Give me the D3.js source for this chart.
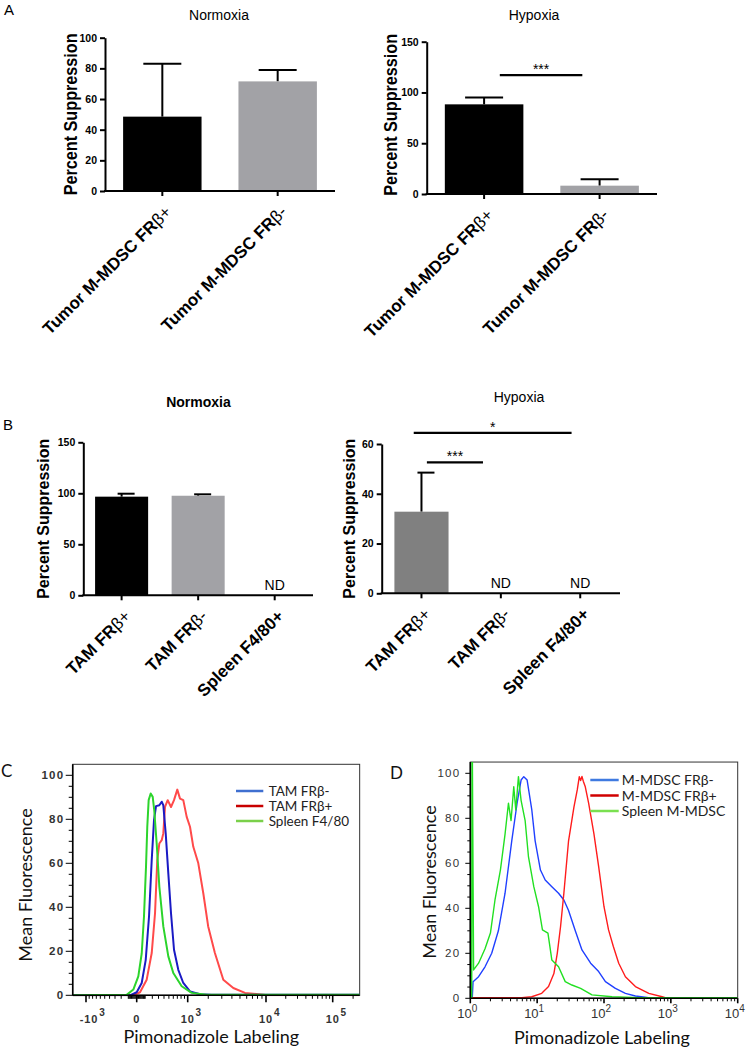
<!DOCTYPE html>
<html><head><meta charset="utf-8">
<script src="https://cdn.jsdelivr.net/npm/d3@7"></script>
<style>
body{margin:0;background:#fff;}
svg{display:block;font-family:Arial,"Liberation Sans",sans-serif;}
</style></head><body>
<svg id="chart" width="747" height="1050"></svg>
<script>
// ---------------- DATA ----------------
const aCategories = ["Tumor M-MDSC FRβ+", "Tumor M-MDSC FRβ-"];
const aNormoxiaMean = [48.5, 71.5];
const aNormoxiaErrTop = [83, 79];
const aHypoxiaMean = [88.3, 8.2];
const aHypoxiaErrTop = [95, 14.5];
const aNormoxiaTicks = [0, 20, 40, 60, 80, 100];
const aHypoxiaTicks = [0, 50, 100, 150];
const aHypoxiaSig = [{from: 0, to: 1, y: 117, label: "***"}];

const bCategories = ["TAM FRβ+", "TAM FRβ-", "Spleen F4/80+"];
const bNormoxiaMean = [96.7, 97.6, null];
const bNormoxiaErrTop = [99.6, 99.0, null];
const bHypoxiaMean = [32.8, null, null];
const bHypoxiaErrTop = [48.5, null, null];
const bNormoxiaTicks = [0, 50, 100, 150];
const bHypoxiaTicks = [0, 20, 40, 60];
const bHypoxiaSig = [{from: 0, to: 2, y: 64.5, label: "*"}, {from: 0, to: 1, y: 52.6, label: "***"}];

// Panel C histograms: [Pimonadizole value, % of max]
const cTamFRbNeg = [[-1500,0],[-78,0],[0,1.4],[57,5.6],[107,16],[152,35.8],[191,61.5],[226,79.6],[258,86],[314,86.4],[357,88],[387,86.4],[434,73.6],[488,55.4],[547,37.3],[617,20.7],[725,11.6],[864,5.6],[1088,1.8],[1536,0.5],[2217,0.2],[250000,0.2]];
const cTamFRbPos = [[-1500,0],[-38,0],[37,1.4],[120,7.1],[191,19.2],[242,37.3],[279,61.5],[314,69],[357,70.5],[387,73.6],[420,85.6],[475,88.7],[547,85.6],[617,88.7],[699,93.5],[771,89.4],[864,88.7],[968,81.1],[1088,76.6],[1224,67.5],[1452,60],[1710,46.4],[1996,31.3],[2449,19.2],[3134,7.1],[4159,3.3],[5730,1.1],[9320,0.3],[10400,0],[250000,0]];
const cSpleenF480 = [[-1500,0],[-121,0.2],[-38,2.6],[17.6,8.6],[57,19],[85,35.8],[111,58.5],[128,76.6],[147,88.7],[176,91.7],[206,90.2],[230,84],[269,69],[314,49.4],[387,31.3],[488,17.7],[600,10.1],[818,4.1],[1157,1.1],[1899,0.2],[250000,0.2]];
const cLegend = ["TAM FRβ-", "TAM FRβ+", "Spleen F4/80"];
const cXTickLabels = [{v: -1000, base: "-10", sup: "3"}, {v: 0, base: "0", sup: ""}, {v: 1000, base: "10", sup: "3"}, {v: 10000, base: "10", sup: "4"}, {v: 100000, base: "10", sup: "5"}];

// Panel D histograms
const dMdscFRbNeg = [[1.07,0],[1.10,7.4],[1.33,9.6],[1.66,14],[2.09,20],[2.63,30],[3.31,46.7],[4.17,70],[5.01,86.7],[5.75,97],[6.31,98.5],[7.08,97],[8.32,83.7],[9.33,70],[11.2,57],[13.2,52.6],[16.6,49.6],[20.9,46.7],[25.1,43.7],[29.5,39],[37.2,30],[46.8,21.5],[63.1,15.6],[83.2,11.9],[105,7.4],[148,4.4],[209,2.2],[295,1],[437,0.4],[500,0],[10000,0]];
const dMdscFRbPos = [[1.05,0.3],[5.9,0.3],[8.3,0.7],[11.7,2.2],[14.8,5.2],[17.8,11],[20,20],[22.4,31.9],[25.1,46.7],[29.5,70],[35.5,85],[39.8,92.6],[42.7,98.5],[44.7,96.8],[46.8,98.6],[49,96.5],[52.5,94],[58.9,86.7],[70.8,73],[83.2,58.5],[100,40.7],[117,30.4],[138,23],[166,15.6],[209,9.6],[295,5.2],[468,2.2],[741,0.7],[891,0],[10000,0]];
const dSpleenMdsc = [[1.05,0],[1.06,105],[1.075,105],[1.12,12.6],[1.33,15.6],[1.66,22],[2.0,29],[2.34,43.7],[2.82,57],[3.31,73],[3.72,86.7],[4.07,79],[4.47,94],[4.79,83.7],[5.25,98.5],[5.75,88],[6.61,79],[7.41,63],[8.91,49.6],[10.5,40.7],[12.0,30.4],[14.5,29],[16.6,17],[20.9,14],[26.3,7.4],[33.1,5.9],[44.7,4.4],[66.1,1.5],[132,0.7],[331,0.3],[10000,0.3]];
const dLegend = ["M-MDSC FRβ-", "M-MDSC FRβ+", "Spleen M-MDSC"];
const dXTickValues = [1, 10, 100, 1000, 10000];
const histYTicks = [0, 20, 40, 60, 80, 100];

// ---------------- DRAW ----------------
const svg = d3.select("#chart");
const FONT = "Arial, 'Liberation Sans', sans-serif";
const LATO = "Lato, 'Open Sans', sans-serif";

function barPanel(o) {
  const g = svg.append("g");
  const y = d3.scaleLinear().domain([0, o.ymax]).range([o.y0, o.y1]);
  const x = d3.scaleBand().domain(o.cats).range([o.x0, o.x1]).paddingInner(o.pi).paddingOuter(o.po);
  const bw = x.bandwidth();
  o.cats.forEach((c, i) => {
    if (o.means[i] == null) return;
    const cx = x(c) + bw / 2;
    g.append("line").attr("x1", cx).attr("x2", cx).attr("y1", y(o.means[i])).attr("y2", y(o.errs[i]))
      .attr("stroke", "#000").attr("stroke-width", 2);
    g.append("line").attr("x1", cx - o.capL).attr("x2", cx + o.capR).attr("y1", y(o.errs[i])).attr("y2", y(o.errs[i]))
      .attr("stroke", "#000").attr("stroke-width", 2);
    g.append("rect").attr("x", x(c)).attr("width", bw).attr("y", y(o.means[i]))
      .attr("height", y(0) - y(o.means[i])).attr("fill", o.colors[i]);
  });
  // ND labels
  o.cats.forEach((c, i) => {
    if (o.means[i] != null) return;
    g.append("text").attr("x", x(c) + bw / 2).attr("y", o.y0 - 5).attr("text-anchor", "middle")
      .attr("font-family", FONT).attr("font-size", 14).text("ND");
  });
  // axes
  const ya = g.append("g").attr("transform", `translate(${o.x0},0)`)
    .call(d3.axisLeft(y).tickValues(o.ticks).tickSize(5).tickSizeOuter(0).tickPadding(3));
  ya.select(".domain").attr("stroke-width", 2).attr("stroke", "#000");
  ya.selectAll(".tick line").attr("stroke-width", 2).attr("stroke", "#000");
  ya.selectAll(".tick text").attr("font-size", 10.5).attr("font-weight", "bold").attr("font-family", FONT).attr("fill", "#000");
  const xa = g.append("g").attr("transform", `translate(0,${o.y0})`)
    .call(d3.axisBottom(x).tickSize(5).tickSizeOuter(0).tickFormat(""));
  xa.select(".domain").attr("stroke-width", 2).attr("stroke", "#000").attr("d", `M${o.x0 - 1},0H${o.x1}`);
  xa.selectAll(".tick line").attr("stroke-width", 2).attr("stroke", "#000");
  // category labels
  o.cats.forEach(c => {
    const cx = x(c) + bw / 2;
    const idx = c.indexOf("β");
    const main = idx >= 0 ? c.slice(0, idx) : c;
    const rest = idx >= 0 ? c.slice(idx) : "";
    const t = g.append("text").attr("transform", `translate(${cx + 10},${o.y0 + 22}) rotate(-45)`)
      .attr("text-anchor", "end").attr("font-family", FONT).attr("font-size", 17);
    t.append("tspan").attr("font-weight", "bold").text(main);
    if (rest) t.append("tspan").attr("font-weight", "normal").text(rest);
  });
  // y title
  const yt = g.append("text").attr("transform", `translate(${o.ytX},${(o.y0 + o.y1) / 2 + o.ytDy}) rotate(-90)`)
    .attr("text-anchor", "middle").attr("font-family", FONT).attr("font-weight", "bold")
    .attr("font-size", o.ytSize).text("Percent Suppression");
  if (o.ytLen) yt.attr("textLength", o.ytLen).attr("lengthAdjust", "spacingAndGlyphs");
  // title
  g.append("text").attr("x", o.titleX).attr("y", o.titleY).attr("text-anchor", "middle")
    .attr("font-family", FONT).attr("font-size", 14).attr("font-weight", o.titleBold ? "bold" : "normal").text(o.title);
  // significance
  (o.sig || []).forEach((s, k) => {
    const [f1, f2] = o.sigOff[k];
    const xa1 = x(o.cats[s.from]) + f1 * bw, xa2 = x(o.cats[s.to]) + f2 * bw;
    g.append("line").attr("x1", xa1).attr("x2", xa2).attr("y1", y(s.y)).attr("y2", y(s.y))
      .attr("stroke", "#000").attr("stroke-width", 2.2);
    g.append("text").attr("x", (xa1 + xa2) / 2).attr("y", y(s.y) - 1).attr("text-anchor", "middle")
      .attr("font-family", FONT).attr("font-size", 14).attr("fill", "#000").text(s.label);
  });
}

// Panel letters
[["A", 4, 15], ["B", 3, 430]].forEach(([t, px, py]) =>
  svg.append("text").attr("x", px).attr("y", py).attr("font-family", FONT).attr("font-size", 15).text(t));

barPanel({cats: aCategories, means: aNormoxiaMean, errs: aNormoxiaErrTop, ymax: 100, ticks: aNormoxiaTicks,
  x0: 105, x1: 335, y0: 191, y1: 37.7, pi: 0.32, po: 0.157, colors: ["#000", "#a2a2a6"], capL: 19, capR: 19,
  title: "Normoxia", titleBold: false, titleX: 219, titleY: 20, ytX: 76.5, ytDy: 0, ytSize: 18.5, ytLen: 162});
barPanel({cats: aCategories, means: aHypoxiaMean, errs: aHypoxiaErrTop, ymax: 150, ticks: aHypoxiaTicks,
  x0: 426.7, x1: 657, y0: 194, y1: 41.7, pi: 0.32, po: 0.157, colors: ["#000", "#a2a2a6"], capL: 19, capR: 19,
  title: "Hypoxia", titleBold: false, titleX: 534, titleY: 20, ytX: 396.5, ytDy: -3, ytSize: 18.5, ytLen: 162,
  sig: aHypoxiaSig, sigOff: [[0.7, 0.28]]});
barPanel({cats: bCategories, means: bNormoxiaMean, errs: bNormoxiaErrTop, ymax: 150, ticks: bNormoxiaTicks,
  x0: 83.3, x1: 313, y0: 595.3, y1: 442.3, pi: 0.307, po: 0.154, colors: ["#000", "#a2a2a6", "#a2a2a6"], capL: 4, capR: 13,
  title: "Normoxia", titleBold: true, titleX: 198.5, titleY: 407, ytX: 49, ytDy: 0, ytSize: 16});
barPanel({cats: bCategories, means: bHypoxiaMean, errs: bHypoxiaErrTop, ymax: 60, ticks: bHypoxiaTicks,
  x0: 381.7, x1: 620, y0: 593.3, y1: 444, pi: 0.318, po: 0.16, colors: ["#808080", "#808080", "#808080"], capL: 4, capR: 13,
  title: "Hypoxia", titleBold: false, titleX: 519, titleY: 402, ytX: 355, ytDy: 0, ytSize: 16,
  sig: bHypoxiaSig, sigOff: [[0.357, 0.34], [0.6, 0.17]]});

// ---------- Histogram panels ----------
function histFrame(o) {
  const g = svg.append("g");
  const y = d3.scaleLinear().domain([0, 100]).range([o.y0, o.y100]);
  const top = y(105);
  const id = "clip" + o.key;
  svg.append("defs").append("clipPath").attr("id", id).append("rect")
    .attr("x", o.xl).attr("y", top).attr("width", o.xr - o.xl).attr("height", o.y0 - top + 1);
  g.append("rect").attr("x", o.xl).attr("y", top).attr("width", o.xr - o.xl).attr("height", o.y0 - top)
    .attr("fill", "none").attr("stroke", "#333").attr("stroke-width", 1);
  // curves
  const line = d3.line().x(d => o.x(d[0])).y(d => y(d[1]));
  o.curves.forEach(c => {
    g.append("path").attr("d", line(c.data)).attr("fill", "none").attr("stroke", c.color)
      .attr("stroke-width", o.lw).attr("stroke-linejoin", "round").attr("clip-path", `url(#${id})`);
  });
  // y axis
  g.append("line").attr("x1", o.xl).attr("x2", o.xl).attr("y1", top).attr("y2", o.y0).attr("stroke", "#000").attr("stroke-width", 1.6);
  g.append("line").attr("x1", o.xl).attr("x2", o.xr).attr("y1", o.y0).attr("y2", o.y0).attr("stroke", "#000").attr("stroke-width", 1.6);
  d3.range(0, 101, 5).forEach(v => {
    const major = v % 20 === 0;
    g.append("line").attr("x1", o.xl).attr("x2", o.xl - (major ? o.yMaj : o.yMin)).attr("y1", y(v)).attr("y2", y(v))
      .attr("stroke", "#000").attr("stroke-width", 1);
  });
  histYTicks.forEach(v => {
    g.append("text").attr("x", o.yLabX).attr("y", y(v)).attr("dy", "0.35em").attr("text-anchor", "end")
      .attr("font-family", FONT).attr("font-size", 11.5).attr("font-weight", o.labBold ? "bold" : "normal")
      .attr("letter-spacing", 1.3).attr("fill", "#333").text(v);
  });
  // x ticks
  o.minorX.forEach(v => {
    g.append("line").attr("x1", o.x(v)).attr("x2", o.x(v)).attr("y1", o.y0).attr("y2", o.y0 + o.xMin).attr("stroke", "#000").attr("stroke-width", 1);
  });
  o.majorX.forEach(v => {
    g.append("line").attr("x1", o.x(v)).attr("x2", o.x(v)).attr("y1", o.y0).attr("y2", o.y0 + o.xMaj).attr("stroke", "#000").attr("stroke-width", 1.6);
  });
  // legend
  o.legend.forEach((name, i) => {
    const ly = o.legY + i * o.legStep;
    g.append("line").attr("x1", o.legX).attr("x2", o.legX + o.legLen).attr("y1", ly).attr("y2", ly)
      .attr("stroke", o.legColors[i]).attr("stroke-width", 2.5);
    g.append("text").attr("x", o.legX + o.legLen + o.legGap).attr("y", ly).attr("dy", "0.36em")
      .attr("font-family", LATO).attr("font-size", o.legSize).attr("fill", "#222").text(name);
  });
  // titles
  g.append("text").attr("transform", `translate(${o.ytX},${o.ytY}) rotate(-90)`).attr("text-anchor", "middle")
    .attr("font-family", LATO).attr("font-size", 18).attr("fill", "#111").text("Mean Fluorescence");
  g.append("text").attr("x", o.xtX).attr("y", o.xtY).attr("text-anchor", "middle")
    .attr("font-family", LATO).attr("font-size", 18).attr("fill", "#111").text("Pimonadizole Labeling");
  g.append("text").attr("x", o.letX).attr("y", o.letY).attr("font-family", LATO).attr("font-size", 17).attr("fill", "#111").text(o.letter);
  return g;
}

// Panel C: biexponential-like display
const cX = d3.scaleSymlog().constant(500).domain([-1000, 0, 1000, 1e4, 1e5]).range([86, 136.7, 187.7, 266, 332.7]);
const cMinor = [];
for (let k = 1; k <= 9; k++) { cMinor.push(-k * 100, k * 100, -k * 10, k * 10); }
for (let k = 2; k <= 9; k++) { cMinor.push(k * 1000, k * 10000); }
cMinor.push(200000);
const gC = histFrame({key: "C", x: cX, xl: cX(-1500), xr: cX(250000), y0: 995.3, y100: 775.3,
  curves: [{data: cTamFRbPos, color: "#ff4a4a"}, {data: cTamFRbNeg, color: "#1a1ac4"}, {data: cSpleenF480, color: "#2cd42c"}],
  lw: 2, yMaj: 7, yMin: 4, yLabX: 64.5, labBold: true, minorX: cMinor, majorX: cXTickLabels.map(d => d.v), xMaj: 7, xMin: 3.5,
  legend: cLegend, legColors: ["#3f6fd0", "#c80000", "#7ad04a"], legX: 236, legLen: 27.3, legGap: 5.4, legY: 791, legStep: 15, legSize: 13.5,
  ytX: 31.5, ytY: 885, xtX: 211.3, xtY: 1043, letX: 1, letY: 777, letter: "C"});
cXTickLabels.forEach(d => {
  const t = gC.append("text").attr("x", cX(d.v) + (d.v < 0 ? 3 : 0)).attr("y", 1023).attr("text-anchor", "middle")
    .attr("font-family", FONT).attr("font-size", 11).attr("font-weight", "bold").attr("letter-spacing", 0.8)
    .attr("fill", "#333").text(d.base);
  if (d.sup) {
    const w = t.node().getComputedTextLength();
    gC.append("text").attr("x", cX(d.v) + (d.v < 0 ? 3 : 0) + w / 2 + 1).attr("y", 1016)
      .attr("font-family", FONT).attr("font-size", 10).attr("font-weight", "bold").attr("fill", "#333").text(d.sup);
  }
});

// Panel D: log display
const dX = d3.scaleLog().domain([1, 1e4]).range([470.3, 737.7]);
const dMinor = [];
dXTickValues.slice(0, -1).forEach(dec => { for (let k = 2; k <= 9; k++) dMinor.push(dec * k); });
const gD = histFrame({key: "D", x: dX, xl: dX(1), xr: dX(1e4), y0: 998.3, y100: 773.3,
  curves: [{data: dMdscFRbNeg, color: "#2040ff"}, {data: dMdscFRbPos, color: "#ff1c1c"}, {data: dSpleenMdsc, color: "#22e022"}],
  lw: 1.4, yMaj: 5, yMin: 3, yLabX: 460.5, labBold: false, minorX: dMinor, majorX: dXTickValues, xMaj: 5, xMin: 3,
  legend: dLegend, legColors: ["#3f7ae0", "#d00000", "#7ae050"], legX: 590.3, legLen: 28.4, legGap: 3, legY: 780, legStep: 15.5, legSize: 14,
  ytX: 436, ytY: 882, xtX: 602, xtY: 1044, letX: 390, letY: 779, letter: "D"});
dXTickValues.forEach((v, i) => {
  const t = gD.append("text").attr("x", dX(v) - 3).attr("y", 1018).attr("text-anchor", "middle")
    .attr("font-family", FONT).attr("font-size", 13).attr("fill", "#333");
  t.append("tspan").text("10");
  t.append("tspan").attr("dy", -6).attr("font-size", 10).text(String(Math.round(Math.log10(v))));
});
</script>
</body></html>
